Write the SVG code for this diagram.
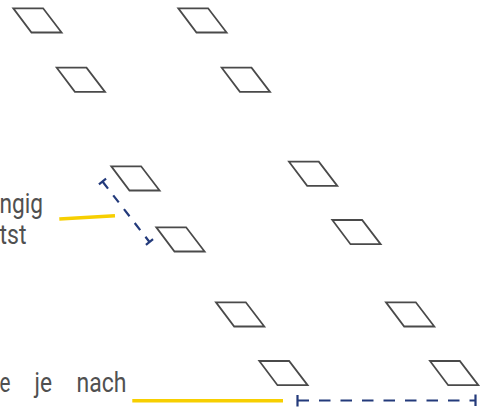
<svg xmlns="http://www.w3.org/2000/svg" width="481" height="411" viewBox="0 0 481 411">
<defs>
<style>
.pg{fill:none;stroke:#4a4a4a;stroke-width:1.8;stroke-linejoin:miter}
.t{font-family:Roboto,"Liberation Sans",sans-serif;font-size:28px;fill:#505050}
.y{stroke:#f7cf00;stroke-width:3.6;fill:none}
.d{stroke:#233a7b;stroke-width:2.2;fill:none}
</style>
<path id="p" d="M0,0 H29.8 L48.3,24.2 H18.2 Z"/>
</defs>
<rect width="481" height="411" fill="#ffffff"/>
<g id="nodes">
<use id="n1" href="#p" class="pg" x="13.3" y="8.3"/>
<use id="n2" href="#p" class="pg" x="178.3" y="8.3"/>
<use id="n3" href="#p" class="pg" x="56.7" y="67.7"/>
<use id="n4" href="#p" class="pg" x="221.7" y="67.7"/>
<use id="n5" href="#p" class="pg" x="111.3" y="166.3"/>
<use id="n6" href="#p" class="pg" x="289" y="161.7"/>
<use id="n7" href="#p" class="pg" x="156.3" y="227.3"/>
<use id="n8" href="#p" class="pg" x="332.3" y="220"/>
<use id="n9" href="#p" class="pg" x="216" y="302.3"/>
<use id="n10" href="#p" class="pg" x="386" y="302.3"/>
<use id="n11" href="#p" class="pg" x="259.3" y="361"/>
<use id="n12" href="#p" class="pg" x="430" y="361"/>
</g>
<g id="labels">
<text class="t" x="-0.5" y="212.8" textLength="43.5" lengthAdjust="spacingAndGlyphs">ngig</text>
<text class="t" x="-0.5" y="243.5" textLength="27" lengthAdjust="spacingAndGlyphs">tst</text>
<text class="t" x="-0.5" y="392" textLength="11" lengthAdjust="spacingAndGlyphs">e</text>
<text class="t" x="34.5" y="392" textLength="17.5" lengthAdjust="spacingAndGlyphs">je</text>
<text class="t" x="76.5" y="392" textLength="50" lengthAdjust="spacingAndGlyphs">nach</text>
</g>
<g id="connectors">
<line class="y" x1="59.3" y1="219" x2="115" y2="215.7"/>
<line class="y" x1="132.3" y1="400.7" x2="283" y2="400.7"/>
<line class="d" x1="102.5" y1="181.5" x2="149.5" y2="242" stroke-dasharray="9 8.5"/>
<line class="d" x1="98.95" y1="184.26" x2="106.05" y2="178.74"/>
<line class="d" x1="145.95" y1="244.76" x2="153.05" y2="239.24"/>
<line class="d" x1="297.5" y1="400.5" x2="475.5" y2="400.5" stroke-dasharray="11.5 10"/>
<line class="d" x1="297.5" y1="395" x2="297.5" y2="406.5"/>
<line class="d" x1="475.5" y1="394.5" x2="475.5" y2="406"/>
</g>
</svg>
